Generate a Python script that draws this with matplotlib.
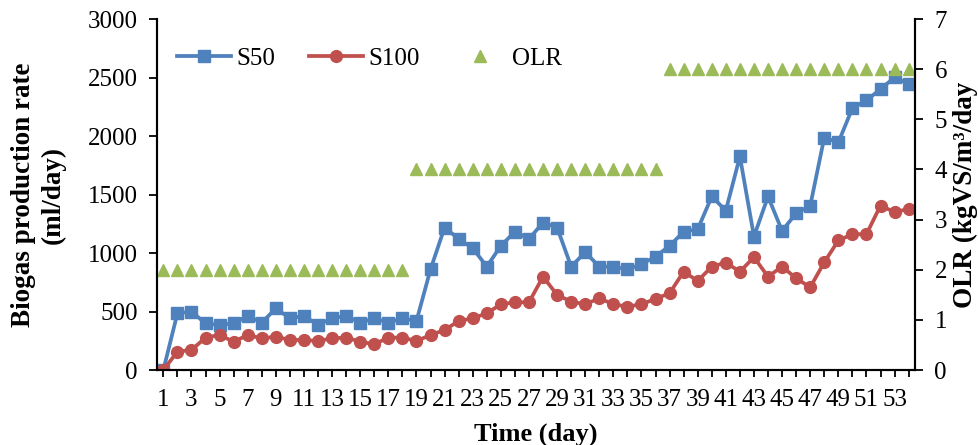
import matplotlib
matplotlib.use("Agg")
import matplotlib.pyplot as plt
from matplotlib.lines import Line2D

days = list(range(1, 55))
s50 = [0, 485, 499, 399, 385, 399, 462, 405, 527, 442,
       462, 385, 442, 462, 405, 442, 405, 442, 419, 861,
       1218, 1121, 1041, 884, 1061, 1183, 1121, 1260, 1218, 884,
       1007, 884, 884, 861, 904, 970, 1061, 1183, 1203, 1483,
       1363, 1825, 1141, 1483, 1189, 1340, 1403, 1987, 1945, 2238,
       2304, 2401, 2501, 2444]
s100 = [0, 157, 171, 277, 299, 242, 299, 271, 285, 257,
        257, 248, 271, 277, 242, 220, 277, 277, 248, 299,
        342, 419, 442, 485, 562, 579, 579, 798, 642, 585,
        562, 613, 562, 542, 562, 608, 656, 841, 761, 884,
        918, 841, 964, 798, 884, 784, 707, 921, 1107, 1161,
        1161, 1406, 1349, 1377]
olr = [2] * 18 + [4] * 18 + [6] * 18

blue = "#4F81BD"
red = "#C0504D"
green = "#9BBB59"

plt.rcParams["font.family"] = ["Liberation Serif", "DejaVu Serif"]
plt.rcParams["font.size"] = 18

fig = plt.figure(figsize=(9.79, 4.45), dpi=100)
ax = fig.add_axes([0.1604, 0.1685, 0.9346 - 0.1604, 0.9573 - 0.1685])
ax2 = ax.twinx()

lw = 2.7
ax.plot(days, s50, color=blue, lw=lw, marker="s", ms=8.5, label="S50", zorder=3)
ax.plot(days, s100, color=red, lw=lw, marker="o", ms=8.5, label="S100", zorder=3)
ax2.plot(days, olr, ls="none", color=green, marker="^", ms=9, label="OLR")

ax.set_xlim(0.55, 54.45)
ax.set_ylim(0, 3000)
ax2.set_ylim(0, 7)
ax.set_yticks(range(0, 3001, 500))
ax2.set_yticks(range(0, 8))
ax.set_xticks(days)
ax.set_xticklabels([str(d) if d % 2 == 1 else "" for d in days])

for a in (ax, ax2):
    a.spines["top"].set_visible(False)
    for s in ("left", "right", "bottom"):
        a.spines[s].set_linewidth(1.5)
    a.tick_params(direction="out", width=1.3, length=6, labelsize=18)
ax.tick_params(axis="x", length=5, pad=9)
ax.tick_params(axis="y", pad=8)
ax2.tick_params(axis="y", pad=8)

ax.set_xlabel("Time (day)", fontsize=19, fontweight="bold", labelpad=8)
ax.set_ylabel("Biogas production rate\n(ml/day)", fontsize=19.5, fontweight="bold",
              labelpad=16, linespacing=1.2)
ax2.set_ylabel("OLR (kgVS/m³/day", fontsize=19.5, fontweight="bold", labelpad=4)

handles = [
    Line2D([], [], color=blue, lw=lw, marker="s", ms=8.5),
    Line2D([], [], color=red, lw=lw, marker="o", ms=8.5),
    Line2D([], [], ls="none", color=green, marker="^", ms=9),
]
ax.legend(handles, ["S50", "S100", "OLR"], loc="upper left", ncol=3, frameon=False,
          bbox_to_anchor=(-0.003, 0.983), handlelength=2.16, columnspacing=1.35,
          handletextpad=0.2, fontsize=18)

fig.savefig("out.png", dpi=100)
